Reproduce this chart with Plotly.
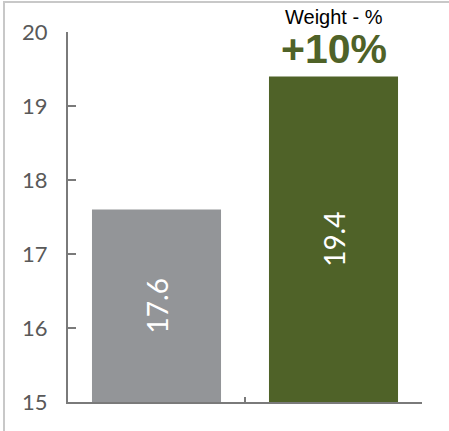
import plotly.graph_objects as go

categories = ["Before", "After"]
values = [17.6, 19.4]
value_labels = ["17.6", "19.4"]
bar_colors = ["#939598", "#4F6228"]
y_ticks = [15, 16, 17, 18, 19, 20]
axis_floor = 15
title_text = "Weight - %"
change_text = "+10%"

W, H = 449, 431
ML, MR, MT, MB = 68, 27, 32, 29
PW, PH = W - ML - MR, H - MT - MB

def px_x(p):
    return (p - ML) / PW

def px_y(p):
    return (H - MB - p) / PH

fig = go.Figure(
    go.Bar(
        x=categories,
        y=[v - axis_floor for v in values],
        base=axis_floor,
        marker=dict(color=bar_colors, line=dict(width=0)),
        text=value_labels,
        textposition="inside",
        insidetextanchor="middle",
        textangle=-90,
        textfont=dict(family="Lato", size=28, color="white"),
        hoverinfo="skip",
    )
)

fig.update_layout(
    width=W,
    height=H,
    margin=dict(l=ML, r=MR, t=MT, b=MB, pad=0),
    paper_bgcolor="white",
    plot_bgcolor="white",
    bargap=0.271,
    showlegend=False,
    xaxis=dict(
        showticklabels=False,
        showgrid=False,
        zeroline=False,
        showline=True,
        linecolor="#7a7a7a",
        linewidth=2,
        ticks="inside",
        tickson="boundaries",
        ticklen=5,
        tickwidth=2,
        tickcolor="#7a7a7a",
    ),
    yaxis=dict(
        range=[15, 20],
        tickvals=y_ticks,
        showgrid=False,
        zeroline=False,
        showline=True,
        linecolor="#7a7a7a",
        linewidth=2,
        ticks="inside",
        ticklen=8,
        tickwidth=2,
        tickcolor="#7a7a7a",
        ticklabelstandoff=14,
        tickfont=dict(family="Lato", size=22, color="#595959"),
    ),
    annotations=[
        dict(
            x=categories[1], xref="x",
            y=px_y(17), yref="paper",
            text=title_text, showarrow=False,
            xanchor="center", yanchor="middle",
            font=dict(family="Liberation Sans", size=20, color="#000000"),
        ),
        dict(
            x=categories[1], xref="x",
            y=px_y(49), yref="paper",
            text="<b>" + change_text + "</b>", showarrow=False,
            xanchor="center", yanchor="middle",
            font=dict(family="Liberation Sans", size=41, color="#4F6228"),
        ),
    ],
    shapes=[
        dict(type="line", xref="paper", yref="paper",
             x0=px_x(4), x1=px_x(452), y0=px_y(2), y1=px_y(2),
             line=dict(color="#c8c8c8", width=2)),
        dict(type="line", xref="paper", yref="paper",
             x0=px_x(4), x1=px_x(4), y0=px_y(1), y1=px_y(434),
             line=dict(color="#c8c8c8", width=2)),
    ],
)

fig.write_html(
    "out.html",
    config={"displayModeBar": False},
    post_script="document.body.style.margin='0';document.body.style.padding='0';",
)
